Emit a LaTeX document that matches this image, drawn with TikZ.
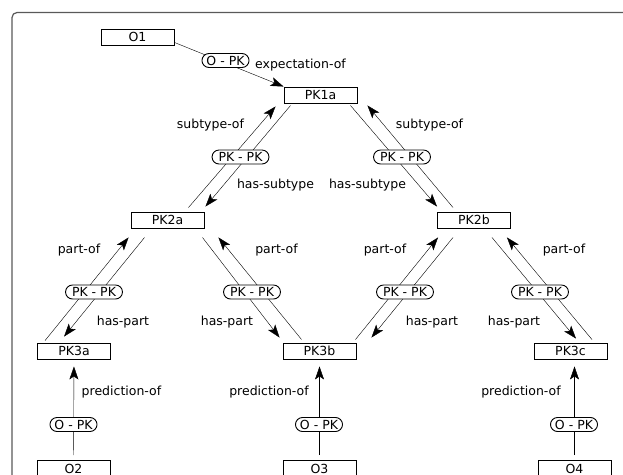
\documentclass[tikz,border=0pt]{standalone}
\usepackage{fontspec}
\setmainfont{DejaVu Sans}
\usetikzlibrary{arrows.meta,backgrounds}

\begin{document}
\begin{tikzpicture}[x=1pt, y=-1pt, line width=0.9pt,
		every node/.style={font=\fontsize{12.5}{14}\selectfont},
		box/.style={draw, line width=0.9pt, minimum width=73pt, minimum height=16pt, inner sep=0pt},
		opill/.style={draw, fill=white, line width=0.9pt, rounded corners=7pt, minimum height=14pt, inner xsep=4.5pt, inner ysep=0pt},
		ppill/.style={opill, inner xsep=6.5pt},
		lbl/.style={inner sep=0pt},
		arr/.style={-{Stealth[length=13pt, width=9pt, inset=3pt]}}]
			\useasboundingbox (0, 0) rectangle (623, 474);
			\clip (0, 0) rectangle (623, 474);
			\draw[black!65, line width=1.2pt, rounded corners=5pt] (12, 12.5) rectangle (640, 490);

			\draw (137.5, 37) 	node[box] 	(o1) 		{O1};
			\draw (320.5, 95) 	node[box] 	(pk1a) 		{PK1a};
			\draw (167.5, 220) 	node[box] 	(pk2a) 		{PK2a};
			\draw (474, 220) 	node[box] 	(pk2b) 		{PK2b};
			\draw (74, 351) 	node[box] 	(pk3a) 		{PK3a};
			\draw (319.5, 351) 	node[box] 	(pk3b) 		{PK3b};
			\draw (570.5, 351) 	node[box] 	(pk3c) 		{PK3c};
			\draw (73.5, 468.5) node[box] 	(o2) 		{O2};
			\draw (319.5, 468.5) node[box] 	(o3) 		{O3};
			\draw (574.5, 468.5) node[box] 	(o4) 		{O4};

			\draw (225.5, 60.5) node[opill] (op1) 		{O - PK};
			\draw (240.5, 157) 	node[ppill] (pp1) 		{PK - PK};
			\draw (402, 157) 	node[ppill] (pp2) 		{PK - PK};
			\draw (94, 292) 	node[ppill] (pp3) 		{PK - PK};
			\draw (252, 292) 	node[ppill] (pp4) 		{PK - PK};
			\draw (405, 292) 	node[ppill] (pp5) 		{PK - PK};
			\draw (540, 292) 	node[ppill] (pp6) 		{PK - PK};
			\draw (73.5, 424.5) node[opill] (op2) 		{O - PK};
			\draw (319, 424.5) 	node[opill] (op3) 		{O - PK};
			\draw (574, 424.5) 	node[opill] (op4) 		{O - PK};

			\draw (300.5, 65.5) node[lbl] 	(lexp) 		{expectation-of};
			\draw (210.5, 125.5) node[lbl] 	(lsub1) 	{subtype-of};
			\draw (429.5, 125.5) node[lbl] 	(lsub2) 	{subtype-of};
			\draw (275.5, 185.5) node[lbl] 	(lhas1) 	{has-subtype};
			\draw (367.5, 185.5) node[lbl] 	(lhas2) 	{has-subtype};
			\draw (79, 250.5) 	node[lbl] 	(lpo1) 		{part-of};
			\draw (276.5, 250.5) node[lbl] 	(lpo2) 		{part-of};
			\draw (385, 250.5) 	node[lbl] 	(lpo3) 		{part-of};
			\draw (564, 250.5) 	node[lbl] 	(lpo4) 		{part-of};
			\draw (123, 322) 	node[lbl] 	(lhp1) 		{has-part};
			\draw (227, 322) 	node[lbl] 	(lhp2) 		{has-part};
			\draw (432, 322) 	node[lbl] 	(lhp3) 		{has-part};
			\draw (514, 322) 	node[lbl] 	(lhp4) 		{has-part};
			\draw (121.5, 392.5) node[lbl] 	(lpr1) 		{prediction-of};
			\draw (269, 392.5) 	node[lbl] 	(lpr2) 		{prediction-of};
			\draw (521, 392.5) 	node[lbl] 	(lpr3) 		{prediction-of};

			\begin{scope}[on background layer]
			\draw[arr] ([shift={(0,-3)}]o1.south east) -- (pk1a.north west);
			\draw[arr] ([shift={(-16,-4)}]pk2a.north east) -- ([shift={(-8,3)}]pk1a.south west);
			\draw[arr] ([shift={(7,2)}]pk1a.south west) -- ([shift={(1,-5)}]pk2a.north east);
			\draw[arr] ([shift={(-7,2)}]pk1a.south east) -- ([shift={(0,-5)}]pk2b.north west);
			\draw[arr] ([shift={(16,-4)}]pk2b.north west) -- ([shift={(10,2)}]pk1a.south east);
			\draw[arr] ([shift={(8,-2)}]pk3a.north west) -- ([shift={(-2,9)}]pk2a.south west);
			\draw[arr] ([shift={(14,9)}]pk2a.south west) -- ([shift={(27,-6)}]pk3a.north west);
			\draw[arr] ([shift={(-2,9)}]pk2a.south east) -- ([shift={(-3,-5)}]pk3b.north west);
			\draw[arr] ([shift={(19,-3)}]pk3b.north west) -- ([shift={(14,9)}]pk2a.south east);
			\draw[arr] ([shift={(-1,-3)}]pk3b.north east) -- ([shift={(1,9)}]pk2b.south west);
			\draw[arr] ([shift={(16,9)}]pk2b.south west) -- ([shift={(15,-5)}]pk3b.north east);
			\draw[arr] ([shift={(-19,9)}]pk2b.south east) -- ([shift={(5.5,-4)}]pk3c.north);
			\draw[arr] ([shift={(21.5,-3)}]pk3c.north) -- ([shift={(-4,9)}]pk2b.south east);
			\draw[arr, shorten <=5pt, shorten >=7pt] (o2.north) -- (pk3a.south);
			\draw[arr, shorten <=5pt, shorten >=7pt] (o3.north) -- (pk3b.south);
			\draw[arr, shorten <=5pt, shorten >=7pt] (o4.north) -- (o4.north |- pk3c.south);
			\end{scope}
		\end{tikzpicture}
\end{document}
